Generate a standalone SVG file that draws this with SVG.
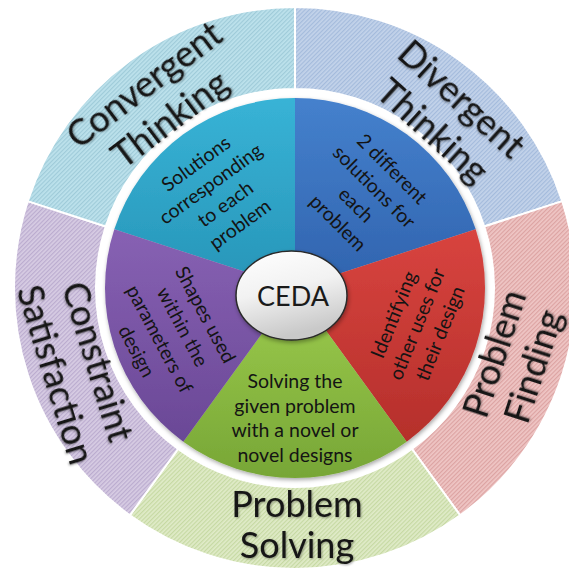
<svg xmlns="http://www.w3.org/2000/svg" width="569" height="573" viewBox="0 0 569 573">
  <style>
    .outer { font-family: Lato, "Open Sans", "Liberation Sans", sans-serif; font-size: 36px; fill: #151515; text-anchor: middle; filter: url(#soft); }
    .inner { font-family: Lato, "Open Sans", "Liberation Sans", sans-serif; font-size: 19.5px; fill: #141414; text-anchor: middle; }
    .hub { font-family: Lato, "Open Sans", "Liberation Sans", sans-serif; font-size: 27px; fill: #1a1a1a; text-anchor: middle; }
    .ring { stroke: #ffffff; stroke-width: 2; }
    .wedge { stroke: none; }
  </style>
  <defs>
    <filter id="soft" x="-10%" y="-10%" width="120%" height="120%">
      <feDropShadow dx="1" dy="1" stdDeviation="1" flood-color="#000" flood-opacity="0.35"/>
    </filter>
    <filter id="shade" x="-10%" y="-10%" width="120%" height="120%">
      <feDropShadow dx="1" dy="2" stdDeviation="2" flood-color="#000" flood-opacity="0.35"/>
    </filter>
    <!-- hatched fills for the outer ring -->
    <pattern id="hCyan" width="3" height="3" patternUnits="userSpaceOnUse" patternTransform="rotate(-45)">
      <rect width="3" height="3" fill="#bde2ec"/><rect width="3" height="1.2" fill="#9fcbd9"/>
    </pattern>
    <pattern id="hBlue" width="3" height="3" patternUnits="userSpaceOnUse" patternTransform="rotate(-45)">
      <rect width="3" height="3" fill="#c3d3ea"/><rect width="3" height="1.2" fill="#a4bbdc"/>
    </pattern>
    <pattern id="hRed" width="3" height="3" patternUnits="userSpaceOnUse" patternTransform="rotate(-45)">
      <rect width="3" height="3" fill="#efc6c5"/><rect width="3" height="1.2" fill="#dca3a2"/>
    </pattern>
    <pattern id="hGreen" width="3" height="3" patternUnits="userSpaceOnUse" patternTransform="rotate(-45)">
      <rect width="3" height="3" fill="#e0ebc8"/><rect width="3" height="1.2" fill="#c6d9a3"/>
    </pattern>
    <pattern id="hPurple" width="3" height="3" patternUnits="userSpaceOnUse" patternTransform="rotate(-45)">
      <rect width="3" height="3" fill="#d7cce3"/><rect width="3" height="1.2" fill="#bbaccf"/>
    </pattern>
    <!-- inner wedge shading -->
    <linearGradient id="gCyan" x1="0" y1="0" x2="0" y2="1"><stop offset="0" stop-color="#38b3d6"/><stop offset="1" stop-color="#2795b8"/></linearGradient>
    <linearGradient id="gBlue" x1="0" y1="0" x2="0" y2="1"><stop offset="0" stop-color="#4581cd"/><stop offset="1" stop-color="#3063ae"/></linearGradient>
    <linearGradient id="gRed" x1="0" y1="0" x2="0" y2="1"><stop offset="0" stop-color="#d8443f"/><stop offset="1" stop-color="#b52f2b"/></linearGradient>
    <linearGradient id="gGreen" x1="0" y1="0" x2="0" y2="1"><stop offset="0" stop-color="#9dcc4d"/><stop offset="1" stop-color="#77a636"/></linearGradient>
    <linearGradient id="gPurple" x1="0" y1="0" x2="0" y2="1"><stop offset="0" stop-color="#8761b3"/><stop offset="1" stop-color="#6a4896"/></linearGradient>
    <linearGradient id="gHub" x1="0" y1="0" x2="0.3" y2="1"><stop offset="0" stop-color="#ffffff"/><stop offset="0.5" stop-color="#f2f2f2"/><stop offset="1" stop-color="#c9c9c9"/></linearGradient>
  </defs>

  <!-- outer ring: five hatched segments, centre (295,288), radii 199..281 -->
  <g id="ring">
    <path id="seg-divergent" class="ring" fill="url(#hBlue)" d="M295 7 A281 281 0 0 1 562.26 201.17 L484.27 226.51 A199 199 0 0 0 295 89 Z"/>
    <path id="seg-finding" class="ring" fill="url(#hRed)" d="M562.26 201.17 A281 281 0 0 1 460.17 515.33 L411.97 448.99 A199 199 0 0 0 484.27 226.51 Z"/>
    <path id="seg-solving" class="ring" fill="url(#hGreen)" d="M460.17 515.33 A281 281 0 0 1 129.83 515.33 L178.03 448.99 A199 199 0 0 0 411.97 448.99 Z"/>
    <path id="seg-constraint" class="ring" fill="url(#hPurple)" d="M129.83 515.33 A281 281 0 0 1 27.74 201.17 L105.73 226.51 A199 199 0 0 0 178.03 448.99 Z"/>
    <path id="seg-convergent" class="ring" fill="url(#hCyan)" d="M27.74 201.17 A281 281 0 0 1 295 7 L295 89 A199 199 0 0 0 105.73 226.51 Z"/>
  </g>

  <!-- inner disk: five coloured wedges, radius 190 -->
  <g id="disk" filter="url(#shade)">
    <path id="w-cyan" class="wedge" fill="url(#gCyan)" d="M295 288 L114.29 229.29 A190 190 0 0 1 295 98 Z"/>
    <path id="w-blue" class="wedge" fill="url(#gBlue)" d="M295 288 L295 98 A190 190 0 0 1 475.71 229.29 Z"/>
    <path id="w-red" class="wedge" fill="url(#gRed)" d="M295 288 L475.71 229.29 A190 190 0 0 1 406.68 441.71 Z"/>
    <path id="w-green" class="wedge" fill="url(#gGreen)" d="M295 288 L406.68 441.71 A190 190 0 0 1 183.32 441.71 Z"/>
    <path id="w-purple" class="wedge" fill="url(#gPurple)" d="M295 288 L183.32 441.71 A190 190 0 0 1 114.29 229.29 Z"/>
  </g>

  <!-- outer labels -->
  <g id="label-convergent" transform="translate(157 102) rotate(-37)">
    <text class="outer" x="0" y="-9">Convergent</text>
    <text class="outer" x="0" y="34">Thinking</text>
  </g>
  <g id="label-divergent" transform="translate(447 115) rotate(42)">
    <text class="outer" x="0" y="-9">Divergent</text>
    <text class="outer" x="0" y="34">Thinking</text>
  </g>
  <g id="label-finding" transform="translate(514 360) rotate(-72)">
    <text class="outer" x="0" y="-8.5">Problem</text>
    <text class="outer" x="0" y="32.5">Finding</text>
  </g>
  <g id="label-solving">
    <text class="outer" x="297" y="517">Problem</text>
    <text class="outer" x="297" y="558">Solving</text>
  </g>
  <g id="label-constraint" transform="translate(77 368) rotate(73)">
    <text class="outer" x="0" y="-9">Constraint</text>
    <text class="outer" x="0" y="35">Satisfaction</text>
  </g>

  <!-- inner labels -->
  <g id="text-cyan" transform="translate(218 194) rotate(-36)">
    <text class="inner" x="0" y="-30.8">Solutions</text>
    <text class="inner" x="0" y="-5.8">corresponding</text>
    <text class="inner" x="0" y="19.2">to each</text>
    <text class="inner" x="0" y="44.2">problem</text>
  </g>
  <g id="text-blue" transform="translate(365 196) rotate(45)">
    <text class="inner" x="0" y="-31.6">2 different</text>
    <text class="inner" x="0" y="-6.1">solutions for</text>
    <text class="inner" x="0" y="19.4">each</text>
    <text class="inner" x="0" y="44.9">problem</text>
  </g>
  <g id="text-red" transform="translate(417 324) rotate(-68)">
    <text class="inner" x="0" y="-18.3">Identifying</text>
    <text class="inner" x="0" y="6.7">other uses for</text>
    <text class="inner" x="0" y="31.7">their design</text>
  </g>
  <g id="text-green">
    <text class="inner" x="295" y="388">Solving the</text>
    <text class="inner" x="295" y="413">given problem</text>
    <text class="inner" x="295" y="437">with a novel or</text>
    <text class="inner" x="295" y="462">novel designs</text>
  </g>
  <g id="text-purple" transform="translate(171 333) rotate(62)">
    <text class="inner" x="0" y="-32.3">Shapes used</text>
    <text class="inner" x="0" y="-6.3">within the</text>
    <text class="inner" x="0" y="19.7">parameters of</text>
    <text class="inner" x="0" y="45.7">design</text>
  </g>

  <!-- centre hub -->
  <g id="hub">
    <ellipse cx="291.5" cy="295.5" rx="55.5" ry="44.5" fill="url(#gHub)" stroke="#2a2a2a" stroke-width="1.5" filter="url(#shade)"/>
    <text class="hub" x="293" y="306">CEDA</text>
  </g>
</svg>
